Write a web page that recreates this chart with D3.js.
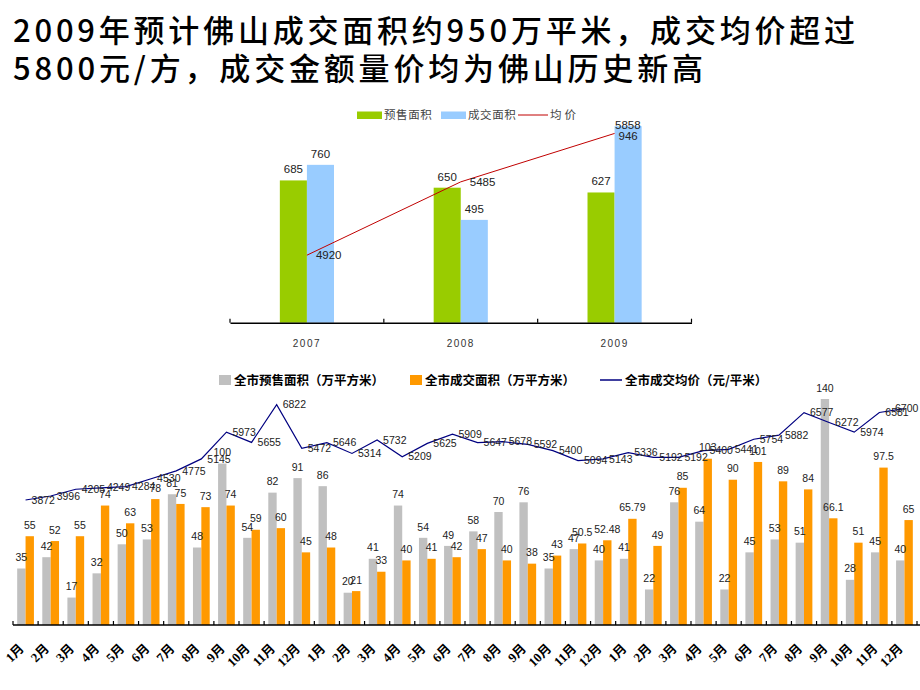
<!DOCTYPE html>
<html><head><meta charset="utf-8">
<script src="https://cdn.jsdelivr.net/npm/d3@7"></script>
<style>body{margin:0;background:#fff}svg{display:block}</style>
</head><body>
<svg id="c" width="920" height="690"></svg>
<script>
// ---------- data ----------
const titleLines = ["2009年预计佛山成交面积约950万平米，成交均价超过", "5800元/方，成交金额量价均为佛山历史新高"];

const years = ["2007", "2008", "2009"];
const yearPresale = [685, 650, 627];
const yearDeal = [760, 495, 946];
const yearPrice = [4920, 5485, 5858];
const topLegend = ["预售面积", "成交面积", "均价"];

const monthNames = ["1月","2月","3月","4月","5月","6月","7月","8月","9月","10月","11月","12月"];
const months = [].concat(monthNames, monthNames, monthNames);
const monthPresale = [35,42,17,32,50,53,81,48,100,54,82,91,
                      86,20,41,74,54,49,58,70,76,35,47,40,
                      41,22,76,64,22,45,53,51,140,28,45,40];
const monthDeal = [55,52,55,74,63,78,75,73,74,59,60,45,
                   48,21,33,40,41,42,47,40,38,43,50.5,52.48,
                   65.79,49,85,103,90,101,89,84,66.1,51,97.5,65];
const monthPrice = [3872,3996,4205,4249,4284,4530,4775,5145,5973,5655,6822,5472,
                    5646,5314,5732,5209,5625,5909,5647,5678,5592,5400,5094,5143,
                    5336,5192,5192,5400,5441,5754,5882,6577,6272,5974,6581,6700];
const bottomLegend = ["全市预售面积（万平方米）", "全市成交面积（万平方米）", "全市成交均价（元/平米）"];

// ---------- setup ----------
const svg = d3.select("#c");
const numFont = "'Liberation Sans', Arial, sans-serif";
const cjkFont = "'Noto Sans CJK SC', sans-serif";

// title
svg.selectAll("text.title").data(titleLines).join("text")
  .attr("class", "title")
  .attr("x", 13).attr("y", (d, i) => 42 + i * 38)
  .attr("textLength", (d, i) => i === 0 ? 842 : 690)
  .attr("lengthAdjust", "spacing")
  .style("font-family", cjkFont).style("font-size", "31px").style("font-weight", 500)
  .attr("fill", "#000").text(d => d);

// ---------- top chart ----------
const topG = svg.append("g");
const tTop = 115, tBase = 322.7;
const xTop = d3.scaleBand().domain(years).range([230, 691.5]);
const yTopBar = d3.scaleLinear().domain([0, 1000]).range([tBase, tTop]);
const yTopPrice = d3.scaleLinear().domain([4400, 6000]).range([tBase, tTop]);
const tbw = xTop.bandwidth() * 0.176;
const cTop = d => xTop(d) + xTop.bandwidth() / 2;

topG.selectAll("rect.g").data(years).join("rect")
  .attr("x", d => cTop(d) - tbw).attr("width", tbw)
  .attr("y", (d, i) => yTopBar(yearPresale[i])).attr("height", (d, i) => tBase - yTopBar(yearPresale[i]))
  .attr("fill", "#99CC00");
topG.selectAll("rect.b").data(years).join("rect")
  .attr("x", d => cTop(d)).attr("width", tbw)
  .attr("y", (d, i) => yTopBar(yearDeal[i])).attr("height", (d, i) => tBase - yTopBar(yearDeal[i]))
  .attr("fill", "#99CCFF");

// axis
const axTop = topG.append("g").attr("transform", `translate(0,${tBase})`)
  .call(d3.axisBottom(xTop).tickSize(0).tickPadding(17));
axTop.select(".domain").attr("stroke", "#000").attr("stroke-width", 1.5);
axTop.selectAll("text").style("font-family", numFont).style("font-size", "10px")
  .style("letter-spacing", "1.5px").attr("fill", "#333");
topG.selectAll("line.tk").data(years.concat(["end"])).join("line")
  .attr("x1", d => d === "end" ? xTop.range()[1] : xTop(d))
  .attr("x2", d => d === "end" ? xTop.range()[1] : xTop(d))
  .attr("y1", tBase - 4).attr("y2", tBase).attr("stroke", "#000").attr("stroke-width", 1.2);

// price line
topG.append("path").datum(years)
  .attr("d", d3.line().x(d => cTop(d)).y((d, i) => yTopPrice(yearPrice[i])))
  .attr("fill", "none").attr("stroke", "#C00000").attr("stroke-width", 1);

// labels
function barLabelY(yv, limit) {
  const c = yv - 11;
  return c - 6 < limit ? yv + 10 : c;
}
topG.selectAll("text.gl").data(years).join("text")
  .attr("x", d => cTop(d) - tbw / 2).attr("y", (d, i) => barLabelY(yTopBar(yearPresale[i]), 120))
  .attr("dy", "0.35em").attr("text-anchor", "middle")
  .style("font-family", numFont).style("font-size", "11.5px").attr("fill", "#222")
  .text((d, i) => yearPresale[i]);
topG.selectAll("text.bl").data(years).join("text")
  .attr("x", d => cTop(d) + tbw / 2).attr("y", (d, i) => barLabelY(yTopBar(yearDeal[i]), 120))
  .attr("dy", "0.35em").attr("text-anchor", "middle")
  .style("font-family", numFont).style("font-size", "11.5px").attr("fill", "#222")
  .text((d, i) => yearDeal[i]);
topG.selectAll("text.pl").data(years).join("text")
  .attr("x", d => Math.min(cTop(d) + 9, 615))
  .attr("y", (d, i) => {
    const py = yTopPrice(yearPrice[i]);
    const by = barLabelY(yTopBar(yearDeal[i]), 120);
    return Math.abs(py - by) < 12 ? by - 11 : py;
  })
  .attr("dy", "0.35em")
  .style("font-family", numFont).style("font-size", "11.5px").attr("fill", "#222")
  .text((d, i) => yearPrice[i]);

// top legend
const tl = topG.append("g").style("font-family", cjkFont).style("font-size", "11.5px");
const tlItems = [
  {x: 357, type: "rect", color: "#99CC00"},
  {x: 441, type: "rect", color: "#99CCFF"},
  {x: 518, type: "line", color: "#C00000"}
];
tlItems.forEach((it, i) => {
  if (it.type === "rect") {
    tl.append("rect").attr("x", it.x).attr("y", 111.5).attr("width", 25).attr("height", 7.5).attr("fill", it.color);
  } else {
    tl.append("line").attr("x1", it.x).attr("x2", it.x + 30).attr("y1", 115).attr("y2", 115)
      .attr("stroke", it.color).attr("stroke-width", 1);
  }
  tl.append("text").attr("x", it.x + (it.type === "rect" ? 27 : 32)).attr("y", 115).attr("dy", "0.36em")
    .attr("fill", "#444").style("letter-spacing", i === 2 ? "3px" : "0.6px").text(topLegend[i]);
});

// ---------- bottom chart ----------
const botG = svg.append("g");
const bTop = 399, bBase = 625;
const idx = d3.range(months.length);
const xB = d3.scaleBand().domain(idx).range([13, 917]);
const yB = d3.scaleLinear().domain([0, 140]).range([bBase, bTop]);
const yP = d3.scaleLinear().domain([0, 7000]).range([bBase, bTop]);
const bw = xB.bandwidth() / 3;
const cB = i => xB(i) + xB.bandwidth() / 2;

botG.selectAll("rect.g").data(idx).join("rect")
  .attr("x", i => cB(i) - bw).attr("width", bw)
  .attr("y", i => yB(monthPresale[i])).attr("height", i => bBase - yB(monthPresale[i]))
  .attr("fill", "#C0C0C0");
botG.selectAll("rect.o").data(idx).join("rect")
  .attr("x", i => cB(i)).attr("width", bw)
  .attr("y", i => yB(monthDeal[i])).attr("height", i => bBase - yB(monthDeal[i]))
  .attr("fill", "#FF9900");

// axis
const axB = botG.append("g").attr("transform", `translate(0,${bBase})`)
  .call(d3.axisBottom(xB).tickSize(0).tickFormat(i => months[i]));
axB.select(".domain").remove();
botG.append("line").attr("x1", 13).attr("x2", 920).attr("y1", bBase).attr("y2", bBase)
  .attr("stroke", "#000").attr("stroke-width", 1.5);
botG.selectAll("line.tk").data(idx.concat([36])).join("line")
  .attr("x1", i => i === 36 ? xB.range()[1] : xB(i))
  .attr("x2", i => i === 36 ? xB.range()[1] : xB(i))
  .attr("y1", bBase - 4).attr("y2", bBase).attr("stroke", "#000").attr("stroke-width", 1.2);
axB.selectAll(".tick text")
  .attr("transform", "translate(-4,21) rotate(-45)")
  .attr("y", 0).attr("dy", "0.35em")
  .attr("text-anchor", "end")
  .style("font-family", "'Liberation Serif', 'Noto Sans CJK SC', serif")
  .style("font-size", "13px").style("font-weight", "bold").attr("fill", "#000");

// price line
botG.append("path").datum(idx)
  .attr("d", d3.line().x(i => cB(i)).y(i => yP(monthPrice[i])))
  .attr("fill", "none").attr("stroke", "#000080").attr("stroke-width", 1.2);

// labels
const lf = s => s.style("font-family", numFont).style("font-size", "10.5px").attr("fill", "#222");
botG.selectAll("text.gl").data(idx).join("text")
  .attr("x", i => cB(i) - bw / 2).attr("y", i => yB(monthPresale[i]) - 11)
  .attr("dy", "0.35em").attr("text-anchor", "middle").call(lf)
  .text(i => monthPresale[i]);
botG.selectAll("text.ol").data(idx).join("text")
  .attr("x", i => cB(i) + bw / 2).attr("y", i => yB(monthDeal[i]) - 11)
  .attr("dy", "0.35em").attr("text-anchor", "middle").call(lf)
  .text(i => monthDeal[i]);
botG.selectAll("text.pl").data(idx).join("text")
  .attr("x", i => Math.min(cB(i) + 6, 895)).attr("y", i => yP(monthPrice[i]))
  .attr("dy", "0.35em").call(lf)
  .text(i => monthPrice[i]);

// bottom legend
const bl = botG.append("g").style("font-family", cjkFont).style("font-size", "12.5px").style("font-weight", "bold");
const blItems = [
  {x: 219, type: "rect", color: "#C0C0C0"},
  {x: 410, type: "rect", color: "#FF9900"},
  {x: 600, type: "line", color: "#000080"}
];
blItems.forEach((it, i) => {
  if (it.type === "rect") {
    bl.append("rect").attr("x", it.x).attr("y", 375).attr("width", 12).attr("height", 10).attr("fill", it.color);
  } else {
    bl.append("line").attr("x1", it.x).attr("x2", it.x + 22).attr("y1", 380).attr("y2", 380)
      .attr("stroke", it.color).attr("stroke-width", 1.5);
  }
  bl.append("text").attr("x", it.x + (it.type === "rect" ? 15 : 25)).attr("y", 380).attr("dy", "0.36em")
    .attr("fill", "#000").text(bottomLegend[i]);
});
</script>
</body></html>
